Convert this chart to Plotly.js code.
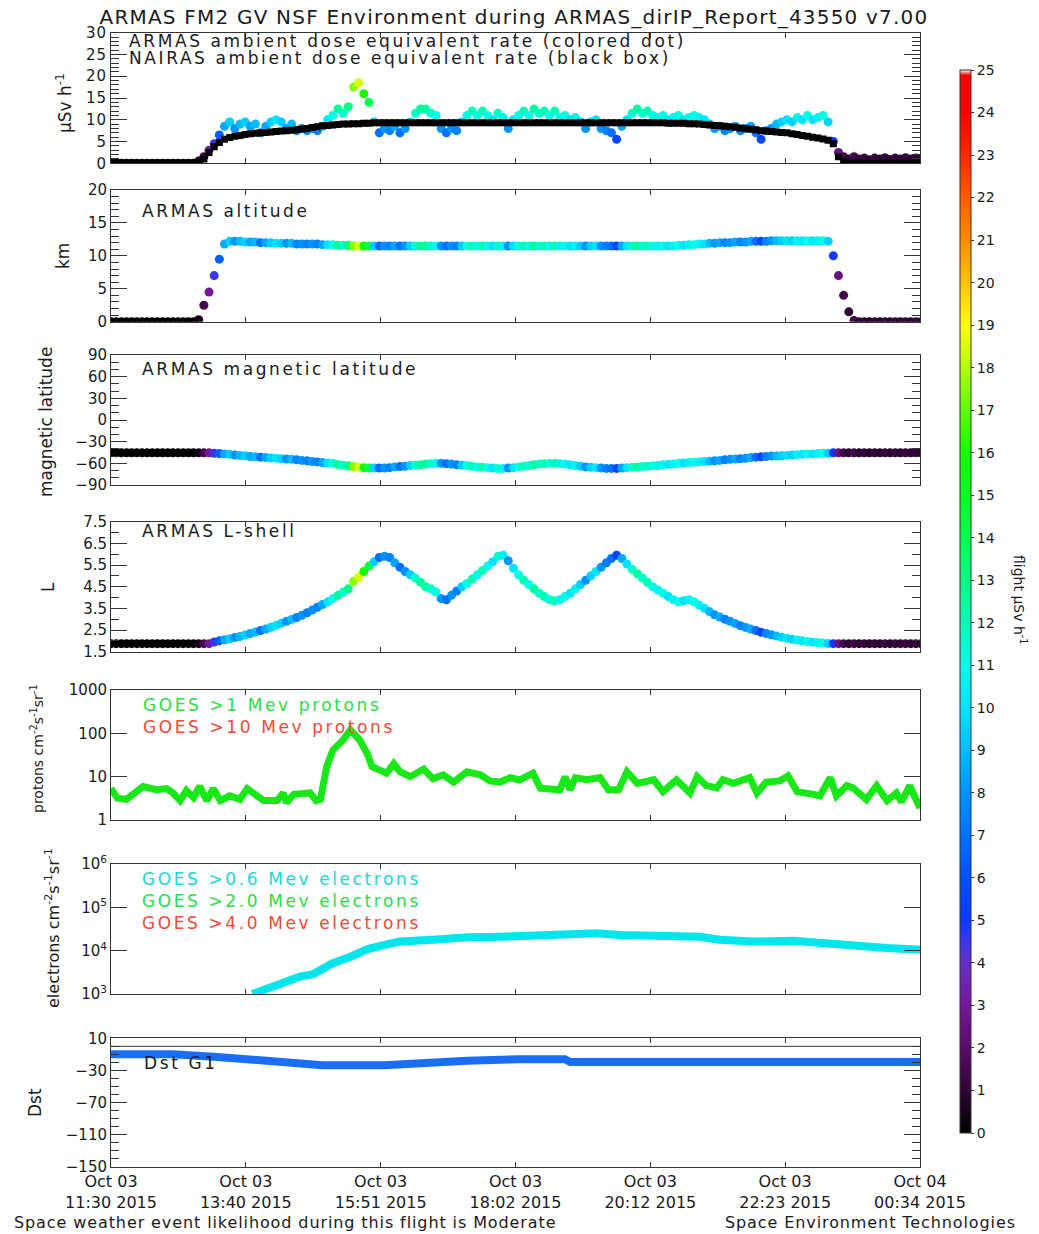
<!DOCTYPE html>
<html>
<head>
<meta charset="utf-8">
<script src="https://cdn.plot.ly/plotly-3.0.1.min.js"></script>
<style>
  html, body { margin: 0; padding: 0; background: #ffffff; }
  #chart { width: 1039px; height: 1234px; }
  .xtick text, .ytick text { letter-spacing: 1px; }
  .gtitle { letter-spacing: 1.2px; }
  /* panel captions are set in a wide, airy style */
  g.annotation[data-index="0"] text, g.annotation[data-index="1"] text,
  g.annotation[data-index="2"] text, g.annotation[data-index="3"] text,
  g.annotation[data-index="4"] text, g.annotation[data-index="5"] text,
  g.annotation[data-index="6"] text, g.annotation[data-index="7"] text,
  g.annotation[data-index="8"] text, g.annotation[data-index="9"] text,
  g.annotation[data-index="10"] text { letter-spacing: 2.6px; }
  g.annotation[data-index="19"] text, g.annotation[data-index="20"] text { letter-spacing: 0.9px; }
</style>
</head>
<body>
<div id="chart"></div>
<script>
// ---------- ARMAS flight record, 5-minute samples from 11:30 UT ----------
const armasDose = [ // ambient dose equivalent rate, uSv/h
  0,0,0,0,0,0,0,0,0,0,
  0,0,0,0,0,0,0,0.5,1.5,3,
  4.5,6.5,8.5,9.5,8,9,9.5,8.5,9,7,
  8.5,9.5,10,9.5,8,9,7.5,8,7.5,8,
  7.5,8.5,10,11,12.5,11.5,13,17.5,18.5,16,
  14,9.5,7,8,7.5,8.5,7,8,9.5,11.5,
  12.5,12.5,11.5,11,8,7,8,7.5,9.5,11,
  12,11,12,11,10,11.5,10.5,8,10,11,
  12,11,12.5,11.5,12,11,12,10.5,11,10,
  10.5,9.5,8,9.5,10,8,7.5,7,5.5,8.5,
  10,11.5,12.5,11.5,12,11,10.5,11,10,10.5,
  11,10,10.5,11,10.5,10,9,8,8.5,7.5,
  8,8.5,7.5,8,8.5,7,5.5,7.5,8,9,
  9.5,10,9.5,10.5,10,11,10,10.5,11,9.5,
  5,2.5,1.5,1,1.5,1,1.2,0.8,1.2,1,
  1.3,0.9,1.2,1,1.3,1,1.2,1
];
const nairasDose = [ // model dose rate along the same track, uSv/h
  0,0,0,0,0,0,0,0,0,0,
  0,0,0,0,0,0,0,0,1,2.5,
  3.8,4.8,5.5,5.9,6.2,6.4,6.6,6.8,6.9,7,
  7.1,7.2,7.3,7.4,7.5,7.6,7.7,7.9,8,8.2,
  8.4,8.6,8.7,8.8,8.9,9,9,9.1,9.1,9.2,
  9.2,9.3,9.3,9.3,9.3,9.3,9.3,9.3,9.3,9.3,
  9.3,9.3,9.3,9.3,9.3,9.3,9.3,9.3,9.3,9.3,
  9.3,9.3,9.3,9.3,9.3,9.3,9.3,9.3,9.3,9.3,
  9.3,9.3,9.3,9.3,9.3,9.3,9.3,9.3,9.3,9.3,
  9.3,9.3,9.3,9.3,9.3,9.3,9.3,9.3,9.3,9.3,
  9.3,9.3,9.3,9.3,9.3,9.3,9.3,9.3,9.2,9.2,
  9.2,9.2,9.1,9.1,9,8.9,8.8,8.7,8.6,8.5,
  8.4,8.3,8.1,8,7.8,7.7,7.5,7.4,7.3,7.2,
  7.1,7,6.8,6.6,6.4,6.2,6,5.8,5.6,5.3,
  4.5,1.5,0.3,0,0,0,0,0,0,0,
  0,0,0,0,0,0,0,0
];
const altitudeKm = [
  0,0,0,0,0,0,0,0,0,0,
  0,0,0,0,0,0,0,0.3,2.5,4.5,
  7,9.5,11.8,12.2,12.2,12.2,12.1,12.1,12.1,12,
  12,12,11.9,11.9,11.9,11.9,11.8,11.8,11.8,11.8,
  11.8,11.7,11.7,11.7,11.6,11.6,11.6,11.5,11.5,11.5,
  11.5,11.5,11.5,11.5,11.5,11.5,11.5,11.5,11.5,11.5,
  11.5,11.5,11.5,11.5,11.5,11.5,11.5,11.5,11.5,11.5,
  11.5,11.5,11.5,11.5,11.5,11.5,11.5,11.5,11.5,11.5,
  11.5,11.5,11.5,11.5,11.5,11.5,11.5,11.5,11.5,11.5,
  11.5,11.5,11.5,11.5,11.5,11.5,11.5,11.5,11.5,11.5,
  11.5,11.5,11.5,11.5,11.5,11.5,11.5,11.5,11.5,11.5,
  11.6,11.6,11.7,11.7,11.8,11.8,11.9,11.9,12,12,
  12,12.1,12.1,12.1,12.2,12.2,12.2,12.2,12.3,12.3,
  12.3,12.3,12.3,12.3,12.3,12.3,12.3,12.3,12.3,12.2,
  10,7,4,1.5,0.2,0,0,0,0,0,
  0,0,0,0,0,0,0,0
];
const magLatitude = [
  -45.5,-45.5,-45.5,-45.5,-45.5,-45.5,-45.5,-45.5,-45.5,-45.5,
  -45.5,-45.5,-45.5,-45.5,-45.5,-45.5,-45.5,-45.5,-45.5,-45.5,
  -46,-46.5,-47,-47.5,-48.5,-49,-49.5,-50.5,-51,-51.5,
  -52,-52.5,-53,-53.5,-54,-54.5,-55,-56,-56.5,-57.5,
  -58,-59,-59.5,-60,-61.5,-62.5,-63.5,-64.5,-65,-66,
  -66.5,-66.5,-66.5,-66.5,-66,-65,-64.5,-64,-63,-62.5,
  -62,-61,-60.5,-60,-60,-60.5,-61,-62,-62.5,-63,
  -64,-65,-65.5,-66,-66.5,-67,-67,-66.5,-66,-65,
  -64,-63,-62,-61,-60.5,-60,-60,-60.5,-61,-62,
  -63,-64,-65,-65.5,-66,-66.5,-67,-67,-67,-66.5,
  -66,-65.5,-65,-64.5,-64,-63.5,-63,-62,-61.5,-61,
  -60,-59.5,-59,-58.5,-58,-57.5,-57,-56.5,-56,-55,
  -54.5,-54,-53.5,-53,-52,-51.5,-51,-50.5,-50,-50,
  -49.5,-49,-48.5,-48,-47.5,-47,-47,-46.5,-46,-46,
  -45.5,-45.5,-45.5,-45.5,-45.5,-45.5,-45.5,-45.5,-45.5,-45.5,
  -45.5,-45.5,-45.5,-45.5,-45.5,-45.5,-45.5,-45.5
];
const lShell = [
  1.87,1.87,1.87,1.87,1.87,1.87,1.87,1.87,1.87,1.87,
  1.87,1.87,1.87,1.87,1.87,1.87,1.87,1.87,1.87,1.87,
  1.95,2,2.05,2.1,2.15,2.2,2.27,2.34,2.41,2.48,
  2.55,2.63,2.72,2.81,2.9,2.99,3.08,3.18,3.3,3.42,
  3.55,3.68,3.8,3.95,4.1,4.25,4.4,4.75,4.95,5.2,
  5.45,5.65,5.85,5.9,5.85,5.6,5.4,5.2,5.05,4.9,
  4.7,4.5,4.4,4.25,3.95,3.9,4.1,4.3,4.5,4.65,
  4.85,5.05,5.25,5.45,5.65,5.9,5.95,5.7,5.35,5.05,
  4.8,4.6,4.4,4.2,4.05,3.9,3.85,3.9,4.05,4.2,
  4.4,4.6,4.8,5,5.2,5.4,5.6,5.8,5.95,5.8,
  5.55,5.3,5.1,4.9,4.7,4.5,4.35,4.2,4.05,3.9,
  3.8,3.85,3.9,3.8,3.65,3.5,3.35,3.2,3.1,3,
  2.9,2.8,2.7,2.62,2.55,2.48,2.4,2.34,2.28,2.22,
  2.17,2.12,2.08,2.04,2,1.97,1.94,1.92,1.9,1.88,
  1.87,1.87,1.87,1.87,1.87,1.87,1.87,1.87,1.87,1.87,
  1.87,1.87,1.87,1.87,1.87,1.87,1.87,1.87
];

// ---------- GOES particle fluxes and Dst (minutes after 11:30 UT) ----------
const protonMinutes = [0,6,15,22,31,44,54,60,67,73,80,86,93,99,106,115,125,132,138,148,
  161,167,170,177,193,199,203,209,215,225,232,241,248,253,261,267,274,280,290,303,
  312,322,332,345,358,367,377,387,396,409,416,435,440,445,450,461,474,482,492,500,
  510,526,535,548,561,568,577,587,593,603,619,626,635,648,656,665,681,687,697,703,
  713,719,732,742,752,761,766,774,784];
const protonFlux = [5.4,3.2,3.0,4.2,5.9,5.0,5.3,4.2,2.8,4.8,3.3,6.0,2.8,5.3,2.8,3.6,3.0,5.3,4.2,2.8,
  2.8,4.2,2.5,3.9,4.2,2.8,3.0,17,41,70,120,70,35,17,14,12,20,13,10,15,
  9,11,7.5,13,11,8,7.5,9.5,8.4,12,5.4,5.0,10,5.0,9.5,8.5,9.5,5,5,13,
  7,8.5,4.5,8.5,4.2,10,6.2,5.5,8.5,7,9.5,4.2,7.5,8,10.5,4.5,3.9,3.6,9.5,3.6,
  6.2,5.5,3.0,6.2,2.8,4.2,2.6,6.2,1.9];

const electronMinutes = [137,151,167,183,196,215,232,248,264,280,312,345,377,396,429,471,493,525,571,590,622,661,687,719,752,784];
const electronFlux = [1000,1350,1780,2510,2880,5130,7240,10700,13500,16200,17800,20400,20900,21400,21900,25100,22900,21900,20900,17800,16200,17000,14800,12900,11500,10500];

const dstMinutes = [0,60,100,135,185,205,265,300,345,395,440,445,485,490,555,560,712,716,724,728,784];
const dstValues = [-10,-10,-13,-17,-22,-23.5,-23.5,-20,-18,-16,-16,-19.5,-19.5,-21.5,-21.5,-19.5,-19.5,-21.5,-21.5,-19.5,-19.5];

// ---------- time axis ----------
const timeTickMinutes = [0, 130.67, 261.33, 392, 522.67, 653.33, 784];
const timeTickText = ['Oct 03<br>11:30 2015','Oct 03<br>13:40 2015','Oct 03<br>15:51 2015',
  'Oct 03<br>18:02 2015','Oct 03<br>20:12 2015','Oct 03<br>22:23 2015','Oct 04<br>00:34 2015'];

const FLIGHT_START = Date.UTC(2015, 9, 3, 11, 30);
const ARMAS_STEP_MIN = 5;
const stamp = m => new Date(FLIGHT_START + Math.round(m * 60000)).toISOString().slice(0, 19).replace('T', ' ');
const armasTime = armasDose.map((_, i) => stamp(i * ARMAS_STEP_MIN));

// IDL-style "rainbow + white" colour table for dose rate
const doseScale = [
  [0.00,'#000000'],[0.04,'#2c0634'],[0.08,'#5a0c66'],[0.12,'#74189a'],[0.16,'#6630c8'],
  [0.18,'#3a36e8'],[0.20,'#1038ff'],[0.24,'#0050ff'],[0.28,'#0070ff'],[0.32,'#0094ff'],
  [0.36,'#00bcff'],[0.40,'#00e4ff'],[0.44,'#00ffe4'],[0.48,'#00ffb4'],[0.52,'#00ff84'],
  [0.56,'#00ff50'],[0.60,'#00ff20'],[0.64,'#14ff00'],[0.68,'#5cff00'],[0.72,'#b4ff00'],
  [0.76,'#ffff00'],[0.80,'#ffc400'],[0.84,'#ff8c00'],[0.88,'#ff5a00'],[0.92,'#ff2800'],
  [0.96,'#ff0000'],[0.995,'#ff0000'],[1.00,'#ffffff']
];

const W = 1039, H = 1234;
const FONT = 'DejaVu Sans';
const INK = '#1a1a1a';
const FRAME = '#333333';
const px = x => x / W;
const py = y => 1 - y / H;

const doseMarker = (size) => ({
  size: size, color: armasDose, colorscale: doseScale, cmin: 0, cmax: 25,
  line: {width: 0}, showscale: false
});

const traces = [
  {x: armasTime, y: armasDose, xaxis: 'x', yaxis: 'y', type: 'scatter', mode: 'markers',
   marker: Object.assign(doseMarker(9), {
     showscale: true,
     colorbar: {
       x: px(960), xref: 'paper', xanchor: 'left', xpad: 0,
       y: py(1133), yref: 'paper', yanchor: 'bottom', ypad: 0,
       len: 1063, lenmode: 'pixels', thickness: 11, thicknessmode: 'pixels',
       outlinewidth: 1, outlinecolor: FRAME, borderwidth: 0,
       tickmode: 'linear', tick0: 0, dtick: 1, ticks: 'outside', ticklen: 3,
       tickcolor: FRAME, tickfont: {family: FONT, size: 14, color: INK}
     }
   })},
  {x: armasTime, y: nairasDose, xaxis: 'x', yaxis: 'y', type: 'scatter', mode: 'markers',
   marker: {symbol: 'square', size: 7, color: '#000000', line: {width: 0}}},
  {x: armasTime, y: altitudeKm, xaxis: 'x2', yaxis: 'y2', type: 'scatter', mode: 'markers', marker: doseMarker(9)},
  {x: armasTime, y: magLatitude, xaxis: 'x3', yaxis: 'y3', type: 'scatter', mode: 'markers', marker: doseMarker(9)},
  {x: armasTime, y: lShell, xaxis: 'x4', yaxis: 'y4', type: 'scatter', mode: 'markers', marker: doseMarker(9)},
  {x: protonMinutes.map(stamp), y: protonFlux, xaxis: 'x5', yaxis: 'y5', type: 'scatter', mode: 'lines',
   line: {color: '#18e818', width: 7}},
  {x: electronMinutes.map(stamp), y: electronFlux, xaxis: 'x6', yaxis: 'y6', type: 'scatter', mode: 'lines',
   line: {color: '#00e6ec', width: 8}},
  {x: dstMinutes.map(stamp), y: dstValues, xaxis: 'x7', yaxis: 'y7', type: 'scatter', mode: 'lines',
   line: {color: '#1a6ef5', width: 8}}
];

// panel frames in pixels: [top, bottom]
const panels = [[32.7,163.3],[190,321.7],[355,485],[521.7,651.7],[690,820],[864,994],[1038.3,1166.7]];

const layout = {
  width: W, height: H,
  margin: {l: 0, r: 0, t: 0, b: 0},
  paper_bgcolor: '#ffffff', plot_bgcolor: '#ffffff',
  showlegend: false,
  font: {family: FONT, size: 15, color: INK},
  title: {
    text: 'ARMAS FM2 GV NSF Environment during ARMAS_dirIP_Report_43550 v7.00',
    font: {family: FONT, size: 20, color: INK},
    x: px(514), xref: 'paper', xanchor: 'center',
    y: py(17), yref: 'paper', yanchor: 'middle'
  },
  shapes: [
    {type: 'line', xref: 'x7 domain', yref: 'y7', x0: 0, x1: 1, y0: 0, y1: 0,
     line: {color: FRAME, width: 1}}
  ],
  annotations: []
};

const xDomain = [px(111), px(920)];
panels.forEach((p, k) => {
  const n = k + 1;
  const xs = n === 1 ? '' : String(n);
  layout['xaxis' + xs] = {
    type: 'date', domain: xDomain, anchor: 'y' + xs,
    range: [stamp(0), stamp(784)],
    tickmode: 'array', tickvals: timeTickMinutes.map(stamp), ticktext: timeTickText,
    ticks: 'inside', ticklen: 5, tickwidth: 1, tickcolor: FRAME,
    showline: true, linecolor: FRAME, linewidth: 1, mirror: 'ticks',
    showgrid: false, zeroline: false,
    showticklabels: n === 7,
    tickfont: {family: FONT, size: 16, color: INK}
  };
  layout['yaxis' + xs] = {
    domain: [py(p[1]), py(p[0])], anchor: 'x' + xs,
    ticks: 'inside', ticklen: 16, tickwidth: 1, tickcolor: FRAME,
    showline: true, linecolor: FRAME, linewidth: 1, mirror: 'ticks',
    showgrid: false, zeroline: false,
    tickfont: {family: FONT, size: 15, color: INK}
  };
});

const minor = (tick0, dtick) => ({ticks: 'inside', ticklen: 8, tickcolor: FRAME, tick0: tick0, dtick: dtick, showgrid: false});
Object.assign(layout.yaxis,  {range: [0, 30], tickmode: 'linear', tick0: 0, dtick: 5, minor: minor(0, 1)});
Object.assign(layout.yaxis2, {range: [0, 20], tickmode: 'linear', tick0: 0, dtick: 5, minor: minor(0, 1)});
Object.assign(layout.yaxis3, {range: [-90, 90], tickmode: 'linear', tick0: -90, dtick: 30, minor: minor(-90, 10)});
Object.assign(layout.yaxis4, {range: [1.5, 7.5], tickmode: 'linear', tick0: 1.5, dtick: 1, minor: minor(1.5, 0.5)});
Object.assign(layout.yaxis5, {type: 'log', range: [0, 3], tickmode: 'array',
  tickvals: [1, 10, 100, 1000], ticktext: ['1', '10', '100', '1000']});
Object.assign(layout.yaxis6, {type: 'log', range: [3, 6], tickmode: 'array',
  tickvals: [1e3, 1e4, 1e5, 1e6], ticktext: ['10<sup>3</sup>', '10<sup>4</sup>', '10<sup>5</sup>', '10<sup>6</sup>']});
Object.assign(layout.yaxis7, {range: [-150, 10], tickmode: 'linear', tick0: -150, dtick: 40, minor: minor(-150, 10)});

// in-panel captions (indices 0-10 use the wide caption style)
const GOES_GREEN = '#2cdc4a', GOES_RED = '#ee4a38', GOES_CYAN = '#1cd6de';
const caption = (text, x, y, color) => ({
  text: text, xref: 'paper', yref: 'paper', x: px(x), y: py(y),
  xanchor: 'left', yanchor: 'middle', align: 'left', showarrow: false,
  font: {family: FONT, size: 17, color: color || INK}
});
layout.annotations.push(
  caption('ARMAS ambient dose equivalent rate (colored dot)', 127, 41.5),
  caption('NAIRAS ambient dose equivalent rate (black box)', 127, 57.5),
  caption('ARMAS altitude', 140, 211),
  caption('ARMAS magnetic latitude', 140, 368.5),
  caption('ARMAS L-shell', 140, 531.5),
  caption('GOES >1 Mev protons', 141, 705, GOES_GREEN),
  caption('GOES >10 Mev protons', 141, 727, GOES_RED),
  caption('GOES >0.6 Mev electrons', 140, 879, GOES_CYAN),
  caption('GOES >2.0 Mev electrons', 140, 901, GOES_GREEN),
  caption('GOES >4.0 Mev electrons', 140, 923, GOES_RED),
  caption('Dst G1', 142, 1063)
);

// axis titles, colour-bar title and footer
const label = (text, x, y, size, angle, xanchor) => ({
  text: text, xref: 'paper', yref: 'paper', x: px(x), y: py(y),
  xanchor: xanchor || 'center', yanchor: 'middle', align: xanchor || 'center',
  showarrow: false, textangle: angle,
  font: {family: FONT, size: size, color: INK}
});
layout.annotations.push(
  label('μSv h<sup>-1</sup>', 64, 103, 17, -90),
  label('km', 63, 256, 17, -90),
  label('magnetic latitude', 46, 422, 17, -90),
  label('L', 48, 587, 17, -90),
  label('protons cm<sup>-2</sup>s<sup>-1</sup>sr<sup>-1</sup>', 37, 749, 14, -90),
  label('electrons cm<sup>-2</sup>s<sup>-1</sup>sr<sup>-1</sup>', 52, 928, 16, -90),
  label('Dst', 35, 1103, 17, -90),
  label('flight μSv h<sup>-1</sup>', 1020, 600, 14, 90),
  label('Space weather event likelihood during this flight is Moderate', 12, 1222, 16, 0, 'left'),
  label('Space Environment Technologies', 1018, 1222, 16, 0, 'right')
);

Plotly.newPlot('chart', traces, layout, {displayModeBar: false, staticPlot: true});
</script>
</body>
</html>
